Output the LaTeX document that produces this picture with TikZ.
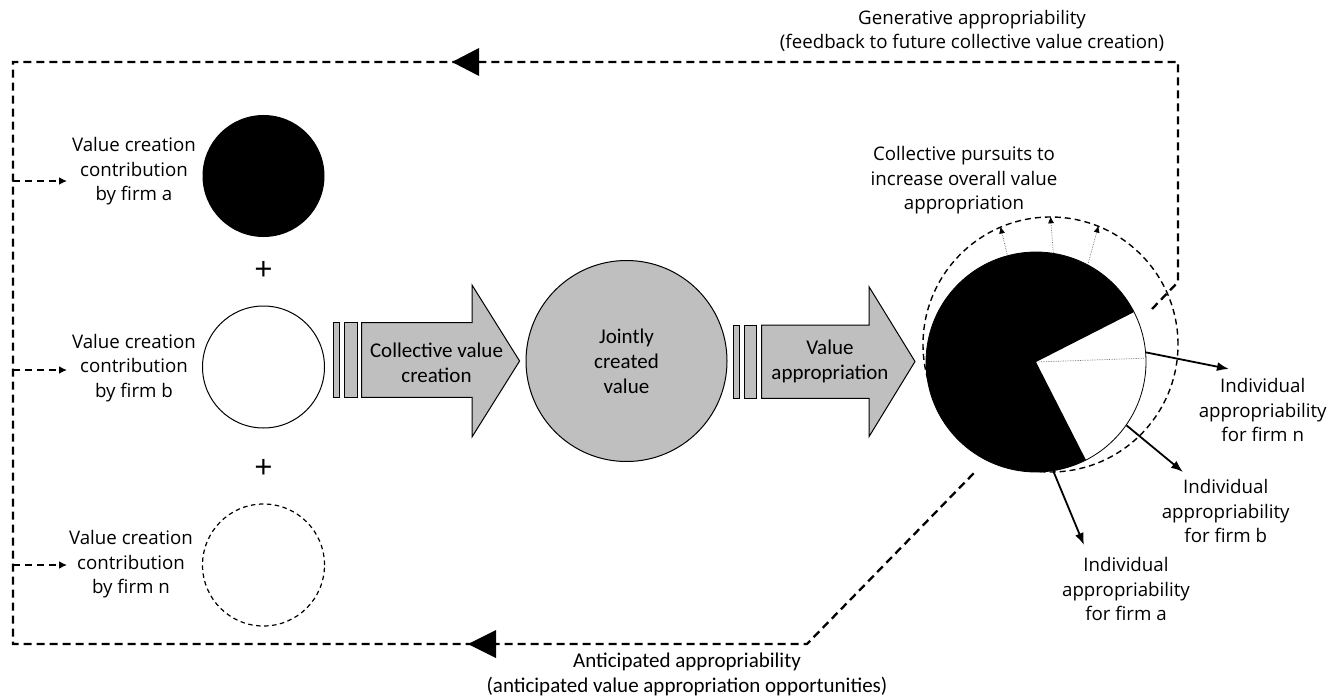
\documentclass[tikz,border=0pt]{standalone}
\usepackage{fontspec}
\setmainfont{Open Sans}
\newfontfamily\calfont{Carlito}
\usetikzlibrary{arrows.meta}
\definecolor{fillg}{RGB}{191,191,191}
\definecolor{dotg}{RGB}{110,110,110}
\tikzset{
  seg/.style={font=\fontsize{18.7}{24.5}\selectfont, align=center, inner sep=0pt},
  cal/.style={font=\calfont\fontsize{21}{25}\selectfont, align=center, inner sep=0pt},
  plussign/.style={font=\fontsize{32}{32}\selectfont, inner sep=0pt},
  loopline/.style={line width=2.3pt, dash pattern=on 8pt off 5pt},
  branch/.style={line width=2pt, dash pattern=on 7pt off 5pt, -{Latex[length=8pt,width=8pt]}},
  firm/.style={circle, minimum size=122pt, inner sep=0pt},
  bar/.style={draw=black, fill=fillg, line width=0.9pt},
  block/.style={draw=black, fill=fillg, line width=1pt, line join=miter},
  outarrow/.style={line width=1.8pt, -{Latex[length=12pt,width=9pt]}},
  pursuit/.style={dotg, line width=0.7pt, densely dotted, -{Latex[black,length=7pt,width=6pt]}},
  bigtip/.style={fill=black}
}
\begin{document}
\begin{tikzpicture}[x=1pt,y=-1pt]
\useasboundingbox (0,0) rectangle (1343,698);

% ---- feedback loop ----
\coordinate (tr0) at (1152,309);
\coordinate (tr1) at (1178,282);
\coordinate (tr2) at (1178,62);
\coordinate (tl) at (13,62);
\coordinate (bl) at (13,644);
\coordinate (br) at (807,644);
\coordinate (bend) at (974,473);
\draw[loopline] (tr0) -- (tr1) -- (tr2) -- (tl) -- (bl) -- (br) -- (bend);
\coordinate (t1) at (452,62);
\coordinate (t2) at (479,48);
\coordinate (t3) at (479,76);
\fill[bigtip] (t1) -- (t2) -- (t3) -- cycle;
\coordinate (b1) at (468,644);
\coordinate (b2) at (496,630);
\coordinate (b3) at (496,658);
\fill[bigtip] (b1) -- (b2) -- (b3) -- cycle;

% ---- top and bottom labels ----
\node[seg] (gen) at (972,31) {Generative appropriability\\(feedback to future collective value creation)};
\node[cal] (ant) at (687,674) {Anticipated appropriability\\(anticipated value appropriation opportunities)};

% ---- firms ----
\node[firm, fill=black] (fa) at (263.5,176) {};
\node[firm, draw=black, line width=1pt] (fb) at (263.5,367) {};
\node[firm, draw=black, line width=1.2pt, dash pattern=on 4.5pt off 3.5pt] (fn) at (263.5,565) {};
\node[plussign] (plus1) at (263.5,271) {+};
\node[plussign] (plus2) at (263.5,469) {+};

\node[seg] (la) at (134,171.5) {Value creation\\contribution\\by firm a};
\node[seg] (lb) at (134,368) {Value creation\\contribution\\by firm b};
\node[seg] (ln) at (131,564.5) {Value creation\\contribution\\by firm n};

\coordinate (ba) at (13,181);
\coordinate (bb) at (13,370);
\coordinate (bn) at (13,565);
\coordinate (ea) at (67,181);
\coordinate (eb) at (67,370);
\coordinate (en) at (67,565);
\draw[branch] (ba) -- (ea);
\draw[branch] (bb) -- (eb);
\draw[branch] (bn) -- (en);

% ---- collective value creation ----
\draw[bar] (333.5,322.7) rectangle (339.5,397.3);
\draw[bar] (344.6,322.7) rectangle (357.5,397.3);
\draw[block] (361.5,322.7) -- (472,322.7) -- (472,285) -- (519.6,361) -- (472,437) -- (472,397.3) -- (361.5,397.3) -- cycle;
\node[cal] (cvc) at (436.5,362.5) {Collective value\\creation};

\node[circle, minimum size=201pt, fill=fillg, draw=black, line width=1pt, cal] (joint) at (626.5,361) {Jointly\\created\\value};

\draw[bar] (733,325) rectangle (739.7,398.3);
\draw[bar] (744.9,325) rectangle (756.8,398.3);
\draw[block] (761.5,325) -- (869,325) -- (869,286.7) -- (915,361.5) -- (869,436.7) -- (869,398.3) -- (761.5,398.3) -- cycle;
\node[cal] (va) at (830,361.5) {Value\\appropriation};

% ---- pie ----
\coordinate (pc) at (1036,362);
\node[circle, minimum size=220pt, inner sep=0pt, draw=black, line width=0.8pt] (pie) at (pc) {};
\fill[black] (pc) -- ++(63:110) arc[start angle=63, end angle=333, radius=110] -- cycle;
\draw[dotg, line width=0.7pt, densely dotted] (pc) -- ++(-2:108);
\node[circle, minimum size=255pt, inner sep=0pt, draw=black, line width=1.4pt, dash pattern=on 6pt off 4pt] (outer) at (1050.5,344.5) {};

\draw[pursuit] (pie.105.5) -- (outer.113);
\draw[pursuit] (pie.81) -- (outer.90);
\draw[pursuit] (pie.62) -- (outer.68.4);

\node[seg] (cp) at (964,180.5) {Collective pursuits to\\increase overall value\\appropriation};

% ---- individual appropriability ----
\coordinate (en1) at (1229,369);
\coordinate (eb1) at (1183,472);
\coordinate (ea1) at (1084,545);
\draw[outarrow] (pie.5) -- (en1);
\draw[outarrow] (pie.-35) -- (eb1);
\draw[outarrow] (pie.-81) -- (ea1);
\node[seg] (ian) at (1262.7,410) {Individual\\appropriability\\for firm n};
\node[seg] (iab) at (1225.7,511) {Individual\\appropriability\\for firm b};
\node[seg] (iaa) at (1126,589) {Individual\\appropriability\\for firm a};
\end{tikzpicture}
\end{document}
